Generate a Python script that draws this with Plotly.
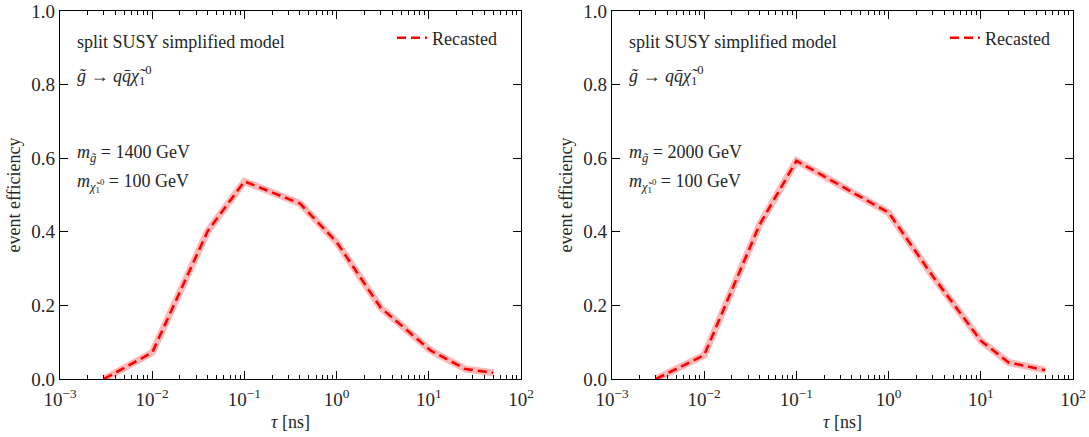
import plotly.graph_objects as go

# Data
tau_1400 = [3e-3, 1e-2, 4e-2, 1e-1, 4e-1, 1.0, 3.0, 10.5, 25.0, 50.0]
eff_1400 = [0.0, 0.072, 0.402, 0.537, 0.477, 0.372, 0.194, 0.077, 0.027, 0.017]

tau_2000 = [3e-3, 1e-2, 4e-2, 1e-1, 1.0, 3.0, 10.0, 20.0, 50.0]
eff_2000 = [0.0, 0.065, 0.42, 0.593, 0.452, 0.28, 0.104, 0.045, 0.024]

mass_labels = ["1400", "2000"]
series_name = "Recasted"
x_tick_vals = [1e-3, 1e-2, 1e-1, 1e0, 1e1, 1e2]
x_tick_text = ["10<sup>−3</sup>", "10<sup>−2</sup>", "10<sup>−1</sup>",
               "10<sup>0</sup>", "10<sup>1</sup>", "10<sup>2</sup>"]
y_ticks = [0.0, 0.2, 0.4, 0.6, 0.8, 1.0]

FONT = "Liberation Serif"
TXT = "#262626"

W, H = 1089, 437
left_px = [(60, 521), (612, 1073)]
top_px, bot_px = 11, 379

fig = go.Figure()

panels = [(tau_1400, eff_1400), (tau_2000, eff_2000)]
for i, (tx, ty) in enumerate(panels):
    ax = "" if i == 0 else str(i + 1)
    xa, ya = "x" + ax, "y" + ax
    fig.add_trace(go.Scatter(
        x=tx, y=ty, xaxis=xa, yaxis=ya, mode="lines",
        line=dict(color="rgba(255,0,0,0.28)", width=7),
        showlegend=False, hoverinfo="skip"))
    fig.add_trace(go.Scatter(
        x=tx, y=ty, xaxis=xa, yaxis=ya, mode="lines", name=series_name,
        line=dict(color="#ff0000", width=2.6, dash="9px,5px"),
        legend="legend" if i == 0 else "legend2", showlegend=True))

layout = dict(
    template="none",
    width=W, height=H,
    margin=dict(l=0, r=0, t=top_px, b=H - bot_px, autoexpand=False),
    paper_bgcolor="white", plot_bgcolor="white",
    font=dict(family=FONT, size=18, color=TXT),
)

for i, (l, r) in enumerate(left_px):
    ax = "" if i == 0 else str(i + 1)
    layout["xaxis" + ax] = dict(
        type="log", range=[-3, 2], domain=[l / W, r / W], automargin=False,
        anchor="y" + ax, tickvals=x_tick_vals, ticktext=x_tick_text,
        showline=True, linecolor="black", linewidth=1.2, mirror="ticks",
        ticks="inside", ticklen=8, tickwidth=1, tickcolor="black", showgrid=False, zeroline=False,
        ticklabelstandoff=3,
        minor=dict(ticks="inside", ticklen=4, tickwidth=1, tickcolor="black", showgrid=False,
                   dtick="D1"),
        tickfont=dict(size=19, family=FONT, color=TXT),
        title=dict(text="<i>τ</i> [ns]", font=dict(size=18, family=FONT, color=TXT), standoff=6),
    )
    layout["yaxis" + ax] = dict(
        range=[0, 1], domain=[0, 1], anchor="x" + ax, automargin=False,
        tickvals=y_ticks, tickformat=".1f",
        showline=True, linecolor="black", linewidth=1.2, mirror="ticks",
        ticks="inside", ticklen=8, tickwidth=1, tickcolor="black", showgrid=False, zeroline=False,
        tickfont=dict(size=19, family=FONT, color=TXT),
        title=dict(text="event efficiency", font=dict(size=18, family=FONT, color=TXT), standoff=6),
    )

leg_y = (bot_px - 38) / (bot_px - top_px)
layout["legend"] = dict(x=392 / W, y=leg_y, xanchor="left", yanchor="middle",
                        bgcolor="rgba(0,0,0,0)", font=dict(size=18, family=FONT, color=TXT))
layout["legend2"] = dict(x=945 / W, y=leg_y, xanchor="left", yanchor="middle",
                         bgcolor="rgba(0,0,0,0)", font=dict(size=18, family=FONT, color=TXT))

fig.update_layout(**layout)

texts = [
    ("split SUSY simplified model", 42),
    ("<i>g̃</i> → <i>q</i><i>q̄</i><i>χ̃</i><sub>1</sub><sup>0</sup>", 75),
    (None, 153),
    ("<i>m</i><sub><i>χ̃</i><sub>1</sub><sup>0</sup></sub> = 100 GeV", 183),
]
for i, (l, r) in enumerate(left_px):
    ax = "" if i == 0 else str(i + 1)
    for t, ypx in texts:
        if t is None:
            t = "<i>m</i><sub><i>g̃</i></sub> = " + mass_labels[i] + " GeV"
        fig.add_annotation(
            text=t, xref=("x" + ax) + " domain", yref=("y" + ax) + " domain",
            x=15 / (r - l), y=(bot_px - ypx) / (bot_px - top_px),
            xanchor="left", yanchor="middle", showarrow=False,
            font=dict(size=18, family=FONT, color=TXT))

fig.write_html("out.html", config={"displayModeBar": False},
               post_script="document.body.style.margin='0';document.body.style.overflow='hidden';")
